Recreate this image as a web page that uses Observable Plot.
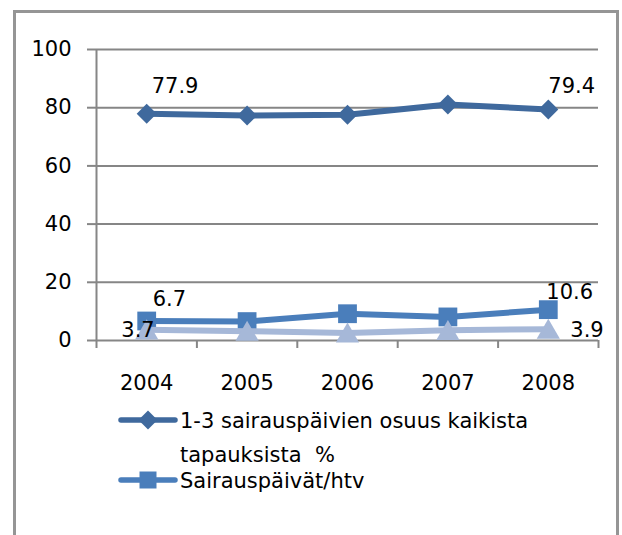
<!DOCTYPE html>
<html><head><meta charset="utf-8">
<script src="https://cdn.jsdelivr.net/npm/d3@7"></script>
<script src="https://cdn.jsdelivr.net/npm/@observablehq/plot@0.6"></script>
<style>
body{margin:0;background:#fff;}
#wrap{position:relative;width:622px;height:535px;overflow:hidden;background:#fff;font-family:"DejaVu Sans";}
#border{position:absolute;left:13px;top:10px;width:606px;height:620px;border:3px solid #959595;box-sizing:border-box;pointer-events:none;}
#chart{position:absolute;left:0;top:0;}
#legend{position:absolute;left:0;top:400px;}
</style></head><body>
<div id="wrap"><div id="chart"></div><div id="legend"></div><div id="border"></div></div>
<script>
// ---- data ----
const years = [2004, 2005, 2006, 2007, 2008];
const shortSpellShare = [77.9, 77.3, 77.6, 81.1, 79.4];   // 1-3 sairauspäivien osuus kaikista tapauksista %
const sickDaysPerFte = [6.7, 6.5, 9.2, 8.1, 10.6];        // Sairauspäivät/htv
const thirdSeries = [3.7, 3.2, 2.6, 3.5, 3.9];            // third series (legend entry cut off)
const legendLines1 = ["1-3 sairauspäivien osuus kaikista", "tapauksista  %"];
const legendLines2 = ["Sairauspäivät/htv"];
const yTicks = [0, 20, 40, 60, 80, 100];

const c1 = "#3f699d", c2 = "#4a7ebb", c3 = "#a6b8d8", gray = "#868686";
const s1 = years.map((year, i) => ({year, value: shortSpellShare[i]}));
const s2 = years.map((year, i) => ({year, value: sickDaysPerFte[i]}));
const s3 = years.map((year, i) => ({year, value: thirdSeries[i]}));
const xDomain = [years[0] - 0.5, years[years.length - 1] + 0.5];
const bounds = d3.range(years.length + 1).map(i => xDomain[0] + i);
const fmt = d => d.value.toFixed(1);
const last = years.length - 1;

const plot = Plot.plot({
  width: 622, height: 400,
  marginLeft: 96, marginRight: 24, marginTop: 49, marginBottom: 60,
  style: {fontFamily: "DejaVu Sans", fontSize: "21px", background: "transparent", overflow: "visible", color: "#000"},
  x: {type: "linear", domain: xDomain},
  y: {domain: [0, 100]},
  marks: [
    Plot.gridY(yTicks.filter(d => d > 0), {stroke: gray, strokeOpacity: 1, strokeWidth: 2}),
    Plot.ruleY([0], {stroke: gray, strokeWidth: 2}),
    Plot.ruleX([xDomain[0]], {stroke: gray, strokeWidth: 2}),
    Plot.axisY(yTicks, {tickSize: 9, tickPadding: 16, stroke: gray, strokeWidth: 2, fill: "#000", fontSize: 21, tickFormat: d => String(d), label: null}),
    Plot.axisX(bounds, {tickSize: 8, stroke: gray, strokeWidth: 2, tickFormat: () => "", label: null}),
    Plot.axisX(years, {tickSize: 0, tickPadding: 35, fill: "#000", fontSize: 21, tickFormat: d => String(d), label: null}),
    Plot.line(s1, {x: "year", y: "value", stroke: c1, strokeWidth: 6}),
    Plot.dot(s1, {x: "year", y: "value", symbol: "diamond2", r: 9, fill: c1}),
    Plot.line(s2, {x: "year", y: "value", stroke: c2, strokeWidth: 6}),
    Plot.dot(s2, {x: "year", y: "value", symbol: "square", r: 10.6, fill: c2}),
    Plot.line(s3, {x: "year", y: "value", stroke: c3, strokeWidth: 6}),
    Plot.dot(s3, {x: "year", y: "value", symbol: "triangle", r: 8.6, fill: c3, dy: 3}),
    Plot.text([s1[0]], {x: "year", y: "value", text: fmt, textAnchor: "start", dx: 5, dy: -28, fill: "#000", fontSize: 21}),
    Plot.text([s1[last]], {x: "year", y: "value", text: fmt, textAnchor: "start", dx: 0, dy: -23, fill: "#000", fontSize: 21}),
    Plot.text([s2[0]], {x: "year", y: "value", text: fmt, textAnchor: "start", dx: 6, dy: -22, fill: "#000", fontSize: 21}),
    Plot.text([s2[last]], {x: "year", y: "value", text: fmt, textAnchor: "start", dx: -2, dy: -17, fill: "#000", fontSize: 21}),
    Plot.text([s3[0]], {x: "year", y: "value", text: fmt, textAnchor: "end", dx: 8, dy: 1, fill: "#000", fontSize: 21}),
    Plot.text([s3[last]], {x: "year", y: "value", text: fmt, textAnchor: "start", dx: 22, dy: 1, fill: "#000", fontSize: 21})
  ]
});
document.getElementById("chart").appendChild(plot);

// ---- legend ----
const leg = d3.select("#legend").append("svg")
  .attr("width", 622).attr("height", 135)
  .style("font-family", "DejaVu Sans").style("font-size", "21px");
const entries = [
  {color: c1, symbol: d3.symbolDiamond2, size: Math.PI * 8.6 * 8.6, y: 20, lines: legendLines1},
  {color: c2, symbol: d3.symbolSquare, size: 17 * 17, y: 80, lines: legendLines2}
];
entries.forEach(e => {
  const g = leg.append("g");
  g.append("line").attr("x1", 121).attr("x2", 175).attr("y1", e.y).attr("y2", e.y)
    .attr("stroke", e.color).attr("stroke-width", 5.5).attr("stroke-linecap", "round");
  g.append("path").attr("d", d3.symbol(e.symbol, e.size)()).attr("transform", `translate(148,${e.y})`).attr("fill", e.color);
  e.lines.forEach((t, i) => {
    g.append("text").attr("x", 180).attr("y", e.y + 7.5 + i * 34).attr("fill", "#000")
      .style("white-space", "pre").text(t);
  });
});
</script>
</body></html>
